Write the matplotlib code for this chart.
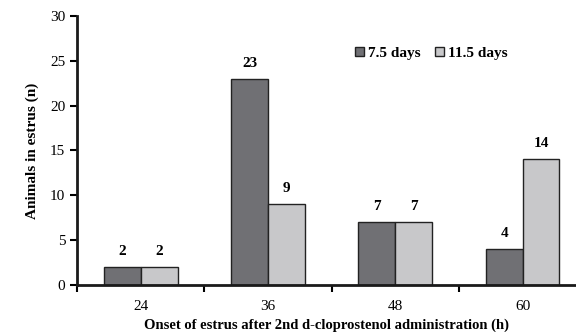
import matplotlib
matplotlib.use("Agg")
import matplotlib.pyplot as plt
import numpy as np

categories = ["24", "36", "48", "60"]
days_7_5 = [2, 23, 7, 4]
days_11_5 = [2, 9, 7, 14]

plt.rcParams['font.family'] = ['Liberation Serif', 'DejaVu Serif']

fig = plt.figure(figsize=(5.76, 3.32), dpi=100)
ax = fig.add_axes([0.134, 0.142, 0.866, 0.81])

x = np.arange(len(categories))
w = 0.29
dark = '#707074'
light = '#c8c8ca'
b1 = ax.bar(x - w / 2, days_7_5, w, color=dark, edgecolor='#222222', linewidth=1, label='7.5 days')
b2 = ax.bar(x + w / 2, days_11_5, w, color=light, edgecolor='#222222', linewidth=1, label='11.5 days')

for bars, vals in [(b1, days_7_5), (b2, days_11_5)]:
    for b, v in zip(bars, vals):
        ax.text(b.get_x() + b.get_width() / 2, v + 1.0, str(v), ha='center', va='bottom',
                fontsize=11, fontweight='bold')

ax.set_xlim(-0.5, 3.42)
ax.set_ylim(0, 30)
ax.set_yticks(range(0, 31, 5))
ax.set_xticks(x)
ax.set_xticklabels(categories, fontsize=11)
ax.set_xticks([-0.5, 0.5, 1.5, 2.5], minor=True)
ax.tick_params(axis='x', which='major', length=0, pad=11)
ax.tick_params(axis='x', which='minor', length=5, width=1.5, direction='out')
ax.tick_params(axis='y', length=5, width=1.5, direction='out', labelsize=11)

for s in ['top', 'right']:
    ax.spines[s].set_visible(False)
for s in ['left', 'bottom']:
    ax.spines[s].set_linewidth(2)
    ax.spines[s].set_color('#1a1a1a')

ax.set_ylabel('Animals in estrus (n)', fontsize=11, fontweight='bold', labelpad=8)
ax.set_xlabel('Onset of estrus after 2nd d-cloprostenol administration (h)', fontsize=10.5,
              fontweight='bold', labelpad=4)

ax.legend(loc='center left', bbox_to_anchor=(0.53, 0.862), ncol=2, frameon=False,
          prop={'weight': 'bold', 'size': 11}, handlelength=0.55, handleheight=0.55,
          handletextpad=0.25, columnspacing=1.0)

fig.savefig('out.png', dpi=100)
